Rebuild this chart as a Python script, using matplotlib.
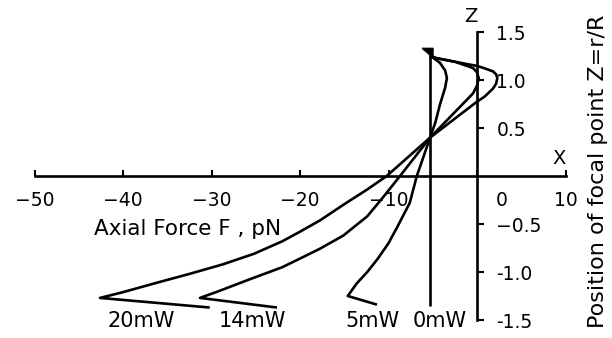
import matplotlib
matplotlib.use("Agg")
import matplotlib.pyplot as plt
from matplotlib.path import Path
from matplotlib.transforms import ScaledTranslation

# ---- data (F in pN, Z = r/R) ----
f_20mW = [-30.2, -42.6, -40.0, -36.5, -32.5, -28.7, -25.2, -22.0, -20.0, -17.7, -15.1, -12.4, -10.2,
          -5.3, -0.2, 0.9, 1.8, 2.15, 2.3, 2.15, 1.8, 0.6, -0.2, -2.5, -4.7, -5.3]
z_20mW = [-1.37, -1.27, -1.21, -1.12, -1.02, -0.92, -0.81, -0.68, -0.58, -0.46, -0.30, -0.14, 0.00,
          0.40, 0.76, 0.83, 0.91, 0.96, 1.02, 1.06, 1.09, 1.13, 1.15, 1.19, 1.23, 1.255]

f_14mW = [-22.6, -31.3, -29.2, -25.8, -22.0, -20.0, -17.8, -15.1, -12.4, -10.6, -8.7,
          -5.3, -0.45, 0.0, 0.2, 0.0, -0.45, -2.5, -4.7, -5.3]
z_14mW = [-1.37, -1.27, -1.20, -1.08, -0.95, -0.86, -0.76, -0.62, -0.42, -0.22, 0.00,
          0.40, 0.86, 0.94, 1.02, 1.08, 1.125, 1.19, 1.23, 1.255]

f_5mW = [-11.3, -14.6, -13.6, -12.4, -11.2, -10.0, -9.0, -7.6, -6.8, -5.3, -4.7, -4.2, -3.6, -3.4,
         -3.6, -4.2, -5.3]
z_5mW = [-1.34, -1.25, -1.12, -1.00, -0.86, -0.70, -0.53, -0.28, 0.00, 0.40, 0.56, 0.74, 0.92, 1.02,
         1.10, 1.18, 1.255]

f_0mW = [-5.3, -5.3]
z_0mW = [-1.35, 1.29]

x_ticks = [-50, -40, -30, -20, -10, 0, 10]
x_ticklabels = ["\u221250", "\u221240", "\u221230", "\u221220", "\u221210", "0", "10"]
y_ticks = [-1.5, -1.0, -0.5, 0.5, 1.0, 1.5]
y_ticklabels = ["-1.5", "-1.0", "\u22120.5", "0.5", "1.0", "1.5"]

curve_labels = ["20mW", "14mW", "5mW", "0mW"]
label_F = [-37.9, -25.4, -11.8, -4.2]
label_Z = [-1.51, -1.51, -1.51, -1.51]

plt.rcParams['font.family'] = ['DejaVu Sans']

W, H = 612, 338
fig = plt.figure(figsize=(W / 100, H / 100), dpi=100)
ax = fig.add_axes([34.5 / W, 18 / H, 531 / W, 288 / H])
ax.set_xlim(-50, 10)
ax.set_ylim(-1.5, 1.5)

lw = 1.9
for f, z in [(f_20mW, z_20mW), (f_14mW, z_14mW), (f_5mW, z_5mW), (f_0mW, z_0mW)]:
    ax.plot(f, z, color='black', lw=lw, solid_joinstyle='round', solid_capstyle='butt', clip_on=False)

# small filled wedge where the curves meet at the top
wedge = Path([(-1.0, 0.5), (0.3, 0.5), (0.3, -0.6), (-1.0, 0.5)])
ax.plot(f_0mW[-1:], z_0mW[-1:], marker=wedge, markersize=12, color='black', lw=0, clip_on=False)

# axes through the origin
ax.spines['left'].set_visible(False)
ax.spines['top'].set_visible(False)
ax.spines['bottom'].set_position(('data', 0))
ax.spines['right'].set_position(('data', 0))
ax.spines['bottom'].set_linewidth(1.9)
ax.spines['right'].set_linewidth(1.9)

ax.xaxis.set_ticks_position('bottom')
ax.yaxis.set_ticks_position('right')
ax.set_xticks(x_ticks)
ax.set_xticklabels(x_ticklabels)
ax.set_yticks(y_ticks)
ax.set_yticklabels(y_ticklabels)
ax.tick_params(axis='x', direction='in', length=4, width=1.5, pad=11, labelsize=13.5)
ax.tick_params(axis='y', direction='out', length=5, width=1.5, pad=9, labelsize=13.5)

# shift the "0" x label right of the Z axis
for t in ax.get_xticklabels():
    if t.get_text() == "0":
        t.set_transform(t.get_transform() + ScaledTranslation(0.25, 0, fig.dpi_scale_trans))

ax.text(-32.7, -0.55, "Axial Force F , pN", fontsize=15.5, ha='center', va='center')
ax.text(9.3, 0.18, "X", fontsize=14, ha='center', va='center')
ax.text(-0.7, 1.66, "Z", fontsize=14, ha='center', va='center', clip_on=False)

for lab, f, z in zip(curve_labels, label_F, label_Z):
    ax.text(f, z, lab, fontsize=15, ha='center', va='center', clip_on=False)

fig.text(598 / W, 1 - 171 / H, "Position of focal point Z=r/R", rotation=90,
         fontsize=16, ha='center', va='center')

fig.savefig("out.png", dpi=100)
